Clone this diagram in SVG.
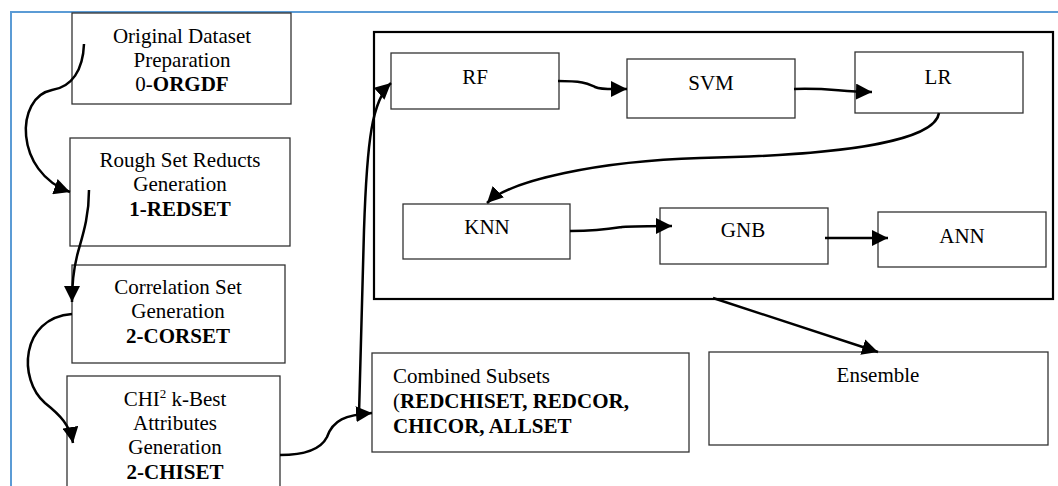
<svg xmlns="http://www.w3.org/2000/svg" width="1058" height="486" viewBox="0 0 1058 486">
<style>
.box{fill:#fff;stroke:#333;stroke-width:1.3}
.cont{fill:none;stroke:#000;stroke-width:2.2}
.t{font-family:"Liberation Serif","Times New Roman",serif;font-size:21px;fill:#000}
.c{text-anchor:middle}
.b{font-weight:bold}
.conn path{fill:none;stroke:#000;stroke-width:2.5}
</style>
<defs>
<marker id="ah" markerWidth="17" markerHeight="16" refX="16" refY="8" orient="auto" markerUnits="userSpaceOnUse"><path d="M0,0 L16,8 L0,16 z" fill="#000"/></marker>
</defs>
<rect width="1058" height="486" fill="#fff"/>
<path d="M11 486 L11 12 L1058 12" fill="none" stroke="#5B9BD5" stroke-width="2"/>
<rect id="container" class="cont" x="374" y="32" width="679" height="267"/>

<g id="orgdf"><rect class="box" x="72" y="13" width="219" height="91"/>
<text class="t c" x="182" y="43">Original Dataset</text>
<text class="t c" x="182" y="67">Preparation</text>
<text class="t c" x="182" y="91">0-<tspan class="b">ORGDF</tspan></text></g>

<g id="redset"><rect class="box" x="70" y="138" width="220" height="108"/>
<text class="t c" x="180" y="167">Rough Set Reducts</text>
<text class="t c" x="180" y="191">Generation</text>
<text class="t c b" x="180" y="216">1-REDSET</text></g>

<g id="corset"><rect class="box" x="72" y="265" width="213" height="98"/>
<text class="t c" x="178" y="294">Correlation Set</text>
<text class="t c" x="178" y="318">Generation</text>
<text class="t c b" x="178" y="343">2-CORSET</text></g>

<g id="chiset"><rect class="box" x="67" y="376" width="213" height="120"/>
<text class="t c" x="175" y="406">CHI<tspan font-size="13" dy="-8">2</tspan><tspan dy="8"> k-Best</tspan></text>
<text class="t c" x="175" y="430">Attributes</text>
<text class="t c" x="175" y="454">Generation</text>
<text class="t c b" x="175" y="479">2-CHISET</text></g>

<g id="rf"><rect class="box" x="391" y="53" width="168" height="56"/>
<text class="t c" x="475" y="84">RF</text></g>
<g id="svm"><rect class="box" x="627" y="59" width="168" height="59"/>
<text class="t c" x="711" y="90">SVM</text></g>
<g id="lr"><rect class="box" x="855" y="52" width="168" height="61"/>
<text class="t c" x="938" y="84">LR</text></g>
<g id="knn"><rect class="box" x="403" y="204" width="167" height="55"/>
<text class="t c" x="487" y="234">KNN</text></g>
<g id="gnb"><rect class="box" x="660" y="208" width="168" height="56"/>
<text class="t c" x="743" y="237">GNB</text></g>
<g id="ann"><rect class="box" x="878" y="212" width="168" height="55"/>
<text class="t c" x="962" y="243">ANN</text></g>

<g id="combined"><rect class="box" x="372" y="353" width="317" height="99"/>
<text class="t" x="393" y="383">Combined Subsets</text>
<text class="t" x="393" y="408">(<tspan class="b">REDCHISET, REDCOR,</tspan></text>
<text class="t b" x="393" y="433">CHICOR, ALLSET</text></g>

<g id="ensemble"><rect class="box" x="709" y="352" width="339" height="93"/>
<text class="t c" x="878" y="382">Ensemble</text></g>

<g class="conn" id="connectors">
<path d="M84 44 C83 70 72 87 52 90 C15 97 14 172 70 192" marker-end="url(#ah)"/>
<path d="M89 190 C89 220 81 240 77 256 C73 272 72 288 72 302" marker-end="url(#ah)"/>
<path d="M72 314 C20 318 18 380 45 403 C60 415 70 425 73 443" marker-end="url(#ah)"/>
<path d="M280 455 C310 455 322 447 327 437 C333 420 345 415 372 413" marker-end="url(#ah)"/>
<path d="M359 414 L364 230 C367 140 372 100 391 83" marker-end="url(#ah)"/>
<path d="M558 81 C585 81 588 84 595 87 C602 90 612 89 627 89" marker-end="url(#ah)"/>
<path d="M794 89 C830 88 835 91 872 92" marker-end="url(#ah)"/>
<path d="M939 113 C935 140 850 155 700 158 C600 161 510 180 487 203" marker-end="url(#ah)"/>
<path d="M570 231 C600 231 610 229 622 227 C635 226 650 226 672 226" marker-end="url(#ah)"/>
<path d="M825 238 L888 238" marker-end="url(#ah)"/>
<path d="M713 298 L878 352" marker-end="url(#ah)"/>
</g>
</svg>
